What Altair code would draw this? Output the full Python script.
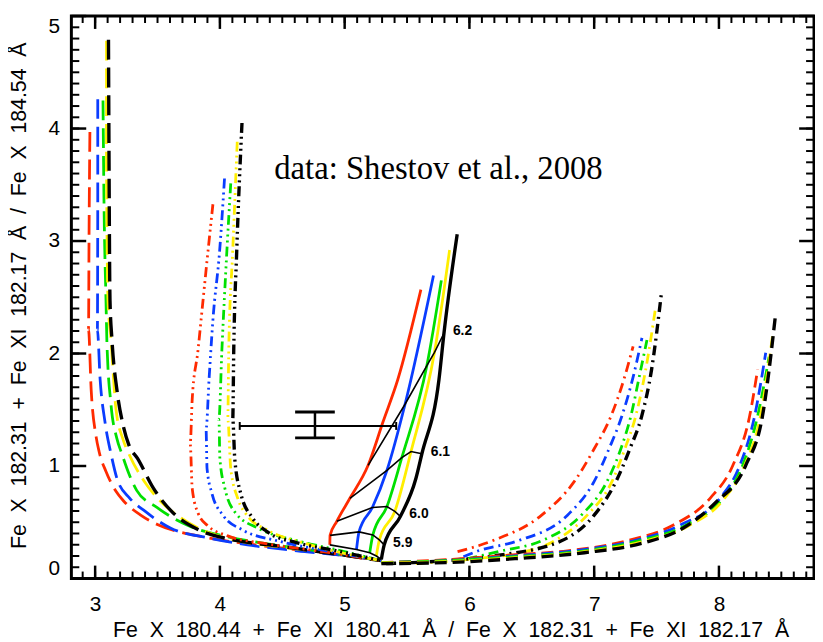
import altair as alt
import pandas as pd

# ---------------- axes ----------------
X_DOMAIN = [2.8095, 8.762]
Y_DOMAIN = [0.0, 5.0]
x_major = [3, 4, 5, 6, 7, 8]
y_major = [0, 1, 2, 3, 4, 5]
x_minor = [round(2.9 + 0.1 * k, 1) for k in range(59)]
y_minor = [round(0.1 * k, 1) for k in range(1, 50)]
SP = "\u00a0\u00a0"
X_TITLE = SP.join(["Fe", "X", "180.44", "+", "Fe", "XI", "180.41", "Å", "/", "Fe", "X", "182.31", "+", "Fe", "XI", "182.17", "Å"])
Y_TITLE = SP.join(["Fe", "X", "182.31", "+", "Fe", "XI", "182.17", "Å", "/", "Fe", "X", "184.54", "Å"])

colors = ["#ff2a00", "#0a3cff", "#00e000", "#ffee00", "#000000"]
widths = [2.8, 2.8, 2.8, 2.8, 3.4]

# ---------------- group A: long dashes (left) ----------------
a_x = [
    [2.958, 2.951, 2.947, 2.968, 3.008, 3.032, 3.087, 3.167, 3.230, 3.365, 3.508, 3.825, 4.222, 4.619, 5.016, 5.294],
    [3.021, 3.021, 3.018, 3.040, 3.079, 3.127, 3.175, 3.278, 3.389, 3.603, 3.905, 4.222, 4.619, 5.016, 5.294],
    [3.063, 3.071, 3.087, 3.095, 3.127, 3.175, 3.214, 3.270, 3.333, 3.492, 3.754, 4.063, 4.381, 4.778, 5.294],
    [3.091, 3.091, 3.103, 3.127, 3.167, 3.222, 3.270, 3.389, 3.524, 3.667, 3.873, 4.143, 4.540, 4.937, 5.294],
    [3.107, 3.111, 3.119, 3.135, 3.175, 3.222, 3.270, 3.341, 3.468, 3.611, 3.833, 4.063, 4.460, 4.857, 5.294],
]
a_y = [
    [3.970, 3.019, 2.210, 1.681, 1.259, 1.127, 0.951, 0.775, 0.687, 0.563, 0.475, 0.379, 0.308, 0.255, 0.202, 0.158],
    [4.261, 3.354, 2.210, 1.769, 1.391, 1.109, 0.889, 0.713, 0.607, 0.449, 0.361, 0.299, 0.246, 0.202, 0.158],
    [4.250, 3.354, 2.474, 2.077, 1.549, 1.241, 1.109, 0.933, 0.783, 0.634, 0.467, 0.370, 0.308, 0.246, 0.158],
    [4.780, 3.794, 2.474, 2.121, 1.505, 1.241, 1.109, 0.871, 0.687, 0.555, 0.423, 0.335, 0.273, 0.220, 0.158],
    [4.789, 3.794, 2.474, 2.121, 1.673, 1.373, 1.188, 1.065, 0.801, 0.599, 0.431, 0.352, 0.290, 0.229, 0.158],
]

# ---------------- group B: dash-dot-dot-dot ----------------
b_x = [
    [3.944, 3.905, 3.849, 3.825, 3.778, 3.762, 3.778, 3.825, 3.905, 4.063, 4.381, 4.778, 5.294],
    [4.037, 3.998, 3.944, 3.913, 3.889, 3.897, 3.936, 4.024, 4.182, 4.460, 4.857, 5.294],
    [4.087, 4.056, 4.016, 3.992, 4.000, 4.040, 4.127, 4.302, 4.619, 4.937, 5.294],
    [4.139, 4.103, 4.071, 4.063, 4.087, 4.143, 4.222, 4.381, 4.698, 5.294],
    [4.177, 4.135, 4.111, 4.103, 4.119, 4.167, 4.262, 4.381, 4.619, 4.937, 5.294],
]
b_y = [
    [3.327, 2.914, 2.298, 2.033, 1.593, 1.197, 0.801, 0.581, 0.467, 0.379, 0.308, 0.246, 0.158],
    [3.556, 2.914, 2.298, 1.769, 1.329, 0.977, 0.757, 0.563, 0.431, 0.335, 0.246, 0.158],
    [3.512, 2.914, 2.033, 1.417, 1.065, 0.801, 0.581, 0.449, 0.335, 0.255, 0.158],
    [3.882, 2.914, 2.033, 1.417, 0.977, 0.713, 0.555, 0.431, 0.308, 0.158],
    [4.049, 2.914, 2.033, 1.417, 1.065, 0.757, 0.537, 0.414, 0.317, 0.246, 0.158],
]

# ---------------- group C: solid; first five points lie on the isotherms ----------------
c_levels = [5.8, 5.9, 6.0, 6.1, 6.2]
c_x = [
    [4.881, 4.883, 4.937, 5.042, 5.188, 5.307, 5.426, 5.611],
    [5.095, 5.115, 5.222, 5.339, 5.484, 5.712],
    [5.201, 5.226, 5.339, 5.458, 5.659, 5.775],
    [5.254, 5.278, 5.402, 5.532, 5.720, 5.841],
    [5.294, 5.317, 5.447, 5.619, 5.796, 5.902, 5.571, 5.756],
]
c_y = [
    [0.299, 0.383, 0.508, 0.713, 1.006, 1.391, 1.769, 2.568],
    [0.258, 0.414, 0.631, 0.962, 1.549, 2.694],
    [0.229, 0.387, 0.640, 1.074, 1.893, 2.650],
    [0.200, 0.343, 0.596, 1.129, 2.011, 2.920],
    [0.170, 0.299, 0.552, 1.109, 2.180, 3.061, 0.889, 1.769],
]

# ---------------- group D: dash-dot (right middle) ----------------
d_x = [
    [5.905, 6.183, 6.579, 6.841, 7.000, 7.135, 7.238, 7.312],
    [5.952, 6.071, 6.389, 6.786, 7.000, 7.119, 7.222, 7.317, 7.383],
    [5.984, 6.259, 6.579, 6.897, 7.103, 7.214, 7.294, 7.365, 7.423],
    [5.571, 6.048, 6.365, 6.683, 6.944, 7.143, 7.246, 7.333, 7.413, 7.489],
    [5.333, 5.810, 6.206, 6.738, 7.000, 7.175, 7.286, 7.381, 7.460, 7.537],
]
d_y = [
    [0.238, 0.335, 0.563, 0.863, 1.153, 1.444, 1.769, 2.063],
    [0.194, 0.246, 0.335, 0.563, 0.863, 1.153, 1.444, 1.813, 2.139],
    [0.176, 0.246, 0.335, 0.563, 0.863, 1.153, 1.444, 1.813, 2.120],
    [0.132, 0.176, 0.220, 0.335, 0.563, 0.863, 1.153, 1.444, 1.857, 2.386],
    [0.132, 0.158, 0.202, 0.335, 0.563, 0.863, 1.153, 1.444, 1.857, 2.518],
]

# ---------------- group E: dashed (right) ----------------
e_x = [
    [5.294, 5.810, 6.365, 6.786, 7.262, 7.635, 7.929, 8.111, 8.246, 8.310],
    [5.294, 5.810, 6.365, 6.841, 7.317, 7.690, 8.008, 8.167, 8.286, 8.375],
    [5.294, 5.810, 6.365, 6.921, 7.357, 7.738, 8.032, 8.190, 8.310, 8.402],
    [5.294, 5.810, 6.365, 6.921, 7.381, 7.754, 8.032, 8.206, 8.333, 8.429],
    [5.294, 5.810, 6.365, 6.921, 7.397, 7.714, 7.968, 8.214, 8.349, 8.455],
]
e_y = [
    [0.141, 0.167, 0.211, 0.246, 0.335, 0.475, 0.713, 1.004, 1.444, 1.857],
    [0.141, 0.158, 0.202, 0.246, 0.335, 0.475, 0.713, 1.004, 1.444, 2.007],
    [0.141, 0.158, 0.194, 0.246, 0.335, 0.475, 0.713, 1.004, 1.444, 1.972],
    [0.141, 0.150, 0.185, 0.238, 0.326, 0.467, 0.695, 1.004, 1.444, 2.151],
    [0.132, 0.141, 0.176, 0.229, 0.317, 0.449, 0.669, 1.004, 1.444, 2.359],
]

# ---------------- error bar (observed ratio) ----------------
err_x = [4.159, 5.413]      # horizontal range
err_y0 = 1.356               # y of horizontal bar
err_xc = 4.762               # x of vertical bar
err_yr = [1.25, 1.48]        # vertical range
cap_x = [4.603, 4.921]       # vertical bar cap extent
end_cap = 0.035              # half height of end caps

annotation = "data: Shestov et al., 2008"
ann_pos = [4.436, 3.636]

W, H = 750, 568
xs = alt.Scale(domain=X_DOMAIN, nice=False, zero=False)
ys = alt.Scale(domain=Y_DOMAIN, nice=False, zero=False)

x_axis = alt.Axis(
    orient="bottom", values=x_major, ticks=False, domain=False, grid=False,
    labelFont="Liberation Sans", labelFontSize=21, labelColor="black", labelPadding=15,
    labelFlush=False, format="d", title=X_TITLE, titleFont="Liberation Sans",
    titleFontSize=21.5, titleFontWeight="normal", titleColor="black",
    titleX=383, titleY=53, titleAlign="center", titleBaseline="middle")
y_axis = alt.Axis(
    orient="left", values=y_major, ticks=False, domain=False, grid=False,
    labelFont="Liberation Sans", labelFontSize=21, labelColor="black", labelPadding=12,
    labelFlush=True, format="d", title=Y_TITLE, titleFont="Liberation Sans",
    titleFontSize=21.5, titleFontWeight="normal", titleColor="black",
    titleX=-52, titleY=282, titleAlign="center", titleBaseline="middle", titleAngle=270)

XA = alt.X("x:Q", scale=xs, axis=x_axis)
YA = alt.Y("y:Q", scale=ys, axis=y_axis)


def curve_frame(xl, yl):
    rows = []
    for ci, (cx, cy) in enumerate(zip(xl, yl)):
        for x, y in zip(cx, cy):
            rows.append({"k": ci, "c": colors[ci], "w": widths[ci], "x": x, "y": y})
    return pd.DataFrame(rows)


def curves(xl, yl, dash=None):
    kw = {"interpolate": "monotone", "strokeCap": "butt"}
    if dash:
        kw["strokeDash"] = dash
    df = curve_frame(xl, yl)
    df["i"] = range(len(df))
    return alt.Chart(df).mark_line(**kw).encode(
        x=XA, y=YA,
        color=alt.Color("c:N", scale=None),
        strokeWidth=alt.StrokeWidth("w:Q", scale=None),
        detail="k:N",
        order=alt.Order("i:Q"),
    )


layerA = curves(a_x, a_y, [20, 8])
layerB = curves(b_x, b_y, [10, 4, 2, 4, 2, 4, 2, 4])
layerD = curves(d_x, d_y, [10, 5, 2, 5])
layerE = curves(e_x, e_y, [12, 6])

# solid curves: ordered along increasing y
c_df = curve_frame(c_x, c_y)
layerC = alt.Chart(c_df).mark_line(interpolate="monotone").encode(
    x=XA, y=YA,
    color=alt.Color("c:N", scale=None),
    strokeWidth=alt.StrokeWidth("w:Q", scale=None),
    detail="k:N",
    order=alt.Order("y:Q"),
)

# isotherms
iso_rows = []
for j, lev in enumerate(c_levels):
    for ci in range(5):
        iso_rows.append({"T": lev, "ci": ci, "x": c_x[ci][j], "y": c_y[ci][j]})
iso = alt.Chart(pd.DataFrame(iso_rows)).mark_line(color="black", strokeWidth=1.6).encode(
    x=XA, y=YA, detail="T:N", order=alt.Order("ci:Q"))
lab_df = pd.DataFrame({
    "x": [c_x[4][j] for j in range(1, 5)],
    "y": [c_y[4][j] for j in range(1, 5)],
    "t": ["%.1f" % c_levels[j] for j in range(1, 5)],
})
iso_labels = alt.Chart(lab_df).mark_text(
    align="left", baseline="middle", dx=9, dy=-2, font="Liberation Sans",
    fontSize=14, fontWeight="bold", color="black",
).encode(x=XA, y=YA, text="t:N")

# error bar
hbar = alt.Chart(pd.DataFrame({"x": [err_x[0]], "x2": [err_x[1]], "y": [err_y0]})).mark_rule(
    color="black", strokeWidth=2).encode(x=XA, x2="x2:Q", y=YA)
ecaps = alt.Chart(pd.DataFrame({"x": err_x, "y": [err_y0 - end_cap] * 2, "y2": [err_y0 + end_cap] * 2})).mark_rule(
    color="black", strokeWidth=2).encode(x=XA, y=YA, y2="y2:Q")
vbar = alt.Chart(pd.DataFrame({"x": [err_xc], "y": [err_yr[0]], "y2": [err_yr[1]]})).mark_rule(
    color="black", strokeWidth=2.5).encode(x=XA, y=YA, y2="y2:Q")
vcaps = alt.Chart(pd.DataFrame({"x": [cap_x[0]] * 2, "x2": [cap_x[1]] * 2, "y": err_yr})).mark_rule(
    color="black", strokeWidth=3).encode(x=XA, x2="x2:Q", y=YA)

ann = alt.Chart(pd.DataFrame({"x": [ann_pos[0]], "y": [ann_pos[1]], "t": [annotation]})).mark_text(
    align="left", baseline="middle", font="Liberation Serif", fontSize=33, color="black",
).encode(x=XA, y=YA, text="t:N")

# inward tick marks on all four sides (positions from the scales)
xt_major = pd.DataFrame({"x": x_major})
xt_minor = pd.DataFrame({"x": x_minor})
yt_major = pd.DataFrame({"y": y_major})
yt_minor = pd.DataFrame({"y": y_minor})


def xticks(df, y0, y1, w):
    return alt.Chart(df).mark_rule(color="black", strokeWidth=w).encode(
        x=XA, y=alt.value(y0), y2=alt.value(y1))


def yticks(df, x0, x1, w):
    return alt.Chart(df).mark_rule(color="black", strokeWidth=w).encode(
        y=YA, x=alt.value(x0), x2=alt.value(x1))


tick_layers = [
    xticks(xt_major, H, H - 13, 2.5), xticks(xt_minor, H, H - 7, 2),
    xticks(xt_major, 0, 13, 2.5), xticks(xt_minor, 0, 7, 2),
    yticks(yt_major, 0, 15, 2.5), yticks(yt_minor, 0, 8, 2),
    yticks(yt_major, W, W - 15, 2.5), yticks(yt_minor, W, W - 8, 2),
]

chart = alt.layer(
    *tick_layers,
    layerA, layerB, layerD, layerE, layerC, iso, iso_labels,
    hbar, ecaps, vbar, vcaps, ann,
).properties(
    width=W, height=H,
    padding={"left": 64, "top": 5, "right": 1, "bottom": 60},
    autosize=alt.AutoSizeParams(type="none"),
    background="white",
).configure_view(stroke="black", strokeWidth=3)

chart.save("out.html", embed_options={"renderer": "svg", "actions": False})
